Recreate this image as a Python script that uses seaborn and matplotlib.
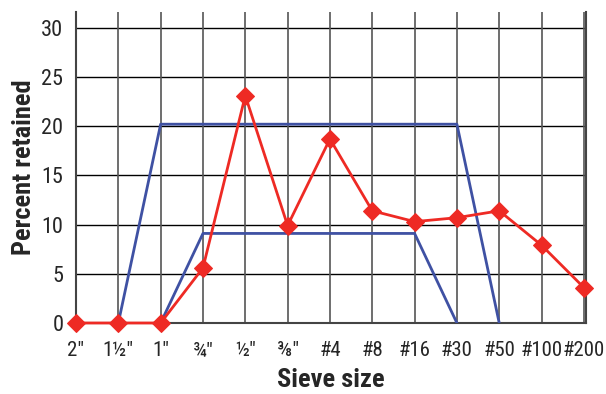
import matplotlib
matplotlib.use("Agg")
import matplotlib.pyplot as plt
import seaborn as sns
import pandas as pd
from matplotlib import font_manager

sieves = ['2"', '1\u00bd"', '1"', '\u00be"', '\u00bd"', '\u215c"', '#4', '#8', '#16', '#30', '#50', '#100', '#200']
retained = [0, 0, 0, 5.6, 23.1, 9.9, 18.7, 11.4, 10.3, 10.7, 11.4, 7.9, 3.6]
upper_sieves = ['1\u00bd"', '1"', '#30', '#50']
upper_vals = [0, 20.2, 20.2, 0]
lower_sieves = ['1"', '\u00be"', '#16', '#30']
lower_vals = [0, 9.1, 9.1, 0]
yticks = [0, 5, 10, 15, 20, 25, 30]

sns.set_style("white")
names = {f.name for f in font_manager.fontManager.ttflist}
fam = [f for f in ['Liberation Sans Narrow', 'Roboto Condensed', 'Liberation Sans'] if f in names] + ['DejaVu Sans']
plt.rcParams['font.family'] = fam

pos = {s: i for i, s in enumerate(sieves)}
df_r = pd.DataFrame({'x': [pos[s] for s in sieves], 'y': retained})
df_u = pd.DataFrame({'x': [pos[s] for s in upper_sieves], 'y': upper_vals})
df_l = pd.DataFrame({'x': [pos[s] for s in lower_sieves], 'y': lower_vals})

fig = plt.figure(figsize=(6.06, 3.94), dpi=100)
ax = fig.add_axes([76/606, 71/394, (586-76)/606, (323-12)/394])

for v in yticks:
    ax.axhline(v, color='black', lw=1.0, zorder=1)
for i in range(len(sieves)):
    ax.axvline(i, color='#555555', lw=1.2, zorder=1)

blue = '#3f51a3'
red = '#ee2a24'
sns.lineplot(data=df_u, x='x', y='y', ax=ax, color=blue, lw=2, sort=False, zorder=3)
sns.lineplot(data=df_l, x='x', y='y', ax=ax, color=blue, lw=2, sort=False, zorder=3)
sns.lineplot(data=df_r, x='x', y='y', ax=ax, color=red, lw=2, sort=False, zorder=4,
             marker='D', markersize=9, markeredgecolor=red, clip_on=False)
for l in ax.lines[-1:]:
    l.set_clip_on(False)

ax.set_xlim(0, 12.05)
ax.set_ylim(0, 31.6)
ax.set_yticks(yticks)
ax.set_xticks(range(len(sieves)))
ax.set_xticklabels(sieves, fontsize=15)
ax.set_yticklabels([str(v) for v in yticks], fontsize=16)
ax.tick_params(axis='x', length=5, width=1, color='#333333', pad=8)
ax.tick_params(axis='y', length=8, width=1, color='#333333', pad=1)
ax.set_xlabel('Sieve size', fontsize=19, fontweight='bold', labelpad=6)
ax.set_ylabel('Percent retained', fontsize=19, fontweight='bold', labelpad=4)

ax.spines['top'].set_visible(False)
for s in ['left', 'bottom', 'right']:
    ax.spines[s].set_color('#444444')
    ax.spines[s].set_linewidth(1.5)

fig.savefig('out.png', dpi=100)
